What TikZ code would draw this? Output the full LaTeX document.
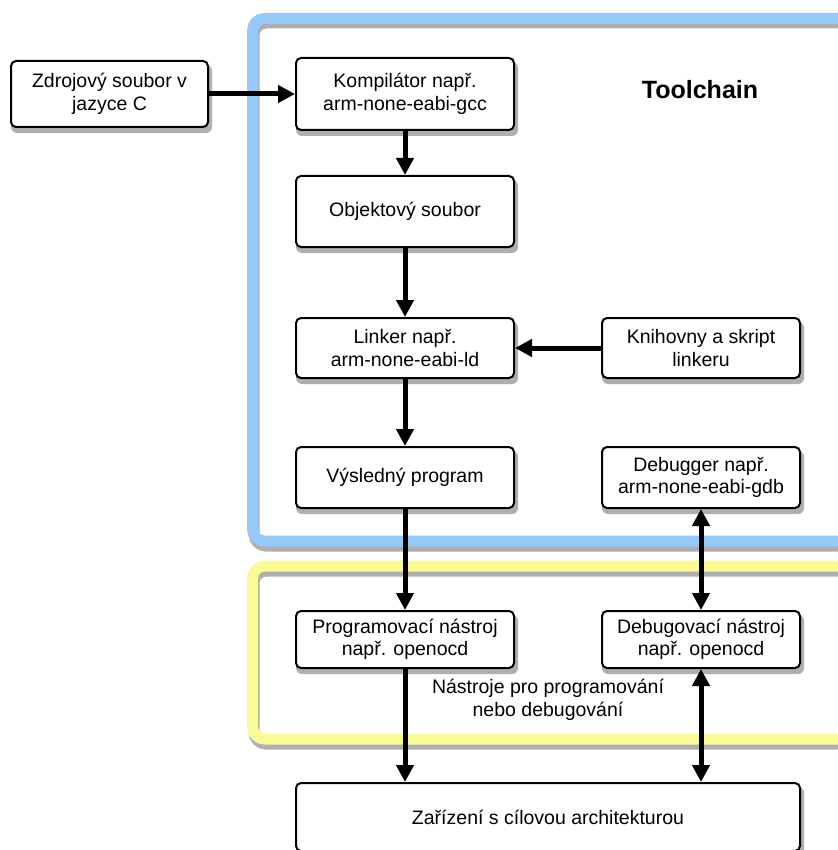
\documentclass[tikz,border=0pt]{standalone}
\usepackage{fontspec}
\setmainfont{Liberation Sans}
\usetikzlibrary{arrows.meta,backgrounds}
\definecolor{frameblue}{RGB}{150,200,250}
\definecolor{frameyellow}{RGB}{250,250,150}
\definecolor{shadowgray}{RGB}{175,175,175}
\begin{document}
\begin{tikzpicture}[x=1pt,y=-1pt,
  box/.style={draw=black, line width=2pt, rounded corners=5pt, fill=white,
    align=center, inner sep=2pt,
    font=\fontsize{19.5}{22.5}\selectfont},
  boxshadow/.style={fill=shadowgray, rounded corners=6pt},
  frame/.style={line width=11pt, rounded corners=12pt},
  frameshadow/.style={line width=11pt, rounded corners=12pt, draw=shadowgray},
  flow/.style={line width=5pt, -{Triangle[length=17pt,width=17pt]}},
  both/.style={line width=5pt, {Triangle[length=17pt,width=17pt]}-{Triangle[length=17pt,width=17pt]}},
  lbl/.style={align=center, font=\fontsize{19.5}{22.5}\selectfont}
]
\useasboundingbox (0,0) rectangle (837,850);

\begin{pgfonlayer}{background}
\fill[white] (0,0) rectangle (837,850);
\draw[frameshadow] (254,23) rectangle (900,546);
\draw[frameshadow] (254,571) rectangle (900,744);
\draw[frame, draw=frameblue] (252.5,18.5) rectangle (900,541);
\draw[frame, draw=frameyellow] (252.5,566) rectangle (900,739);
\end{pgfonlayer}

\node[font=\fontsize{25}{28}\selectfont\bfseries] (tc) at (700,90) {Toolchain};
\node[lbl] (ntext) at (548,700) {Nástroje pro programování\\nebo debugování};

% nodes
\node[box, minimum width=197pt, minimum height=66pt] (src) at (109.5,94) {Zdrojový soubor v\\jazyce C};
\node[box, minimum width=218pt, minimum height=72pt] (comp) at (405,94) {Kompilátor např.\\arm-none-eabi-gcc};
\node[box, minimum width=218pt, minimum height=71pt] (obj) at (405,211.5) {Objektový soubor};
\node[box, minimum width=218pt, minimum height=60pt] (link) at (405,348) {Linker např.\\arm-none-eabi-ld};
\node[box, minimum width=198pt, minimum height=60pt] (lib) at (701,348) {Knihovny a skript\\linkeru};
\node[box, minimum width=218pt, minimum height=61pt] (res) at (405,477.5) {Výsledný program};
\node[box, minimum width=198pt, minimum height=61pt] (dbg) at (701,477.5) {Debugger např.\\arm-none-eabi-gdb};
\node[box, minimum width=218pt, minimum height=57pt] (prog) at (405,639.5) {Programovací nástroj\\např. openocd};
\node[box, minimum width=198pt, minimum height=57pt] (dtool) at (701,639.5) {Debugovací nástroj\\např. openocd};
\node[box, minimum width=504pt, minimum height=68pt] (dev) at (548,817) {Zařízení s cílovou architekturou};

\begin{pgfonlayer}{background}
\foreach \n in {src,comp,obj,link,lib,res,dbg,prog,dtool,dev}
  \fill[boxshadow] ([xshift=1pt,yshift=-5pt]\n.south west) rectangle ([xshift=3pt,yshift=-5pt]\n.north east);
\end{pgfonlayer}

% connectors
\draw[flow] (src.east) -- (comp.west);
\draw[flow] (comp.south) -- (obj.north);
\draw[flow] (obj.south) -- (link.north);
\draw[flow] (lib.west) -- (link.east);
\draw[flow] (link.south) -- (res.north);
\draw[flow] (res.south) -- (prog.north);
\draw[both] (dbg.south) -- (dtool.north);
\draw[flow] (prog.south) -- (prog.south |- dev.north);
\draw[both] (dtool.south) -- (dtool.south |- dev.north);
\end{tikzpicture}
\end{document}
